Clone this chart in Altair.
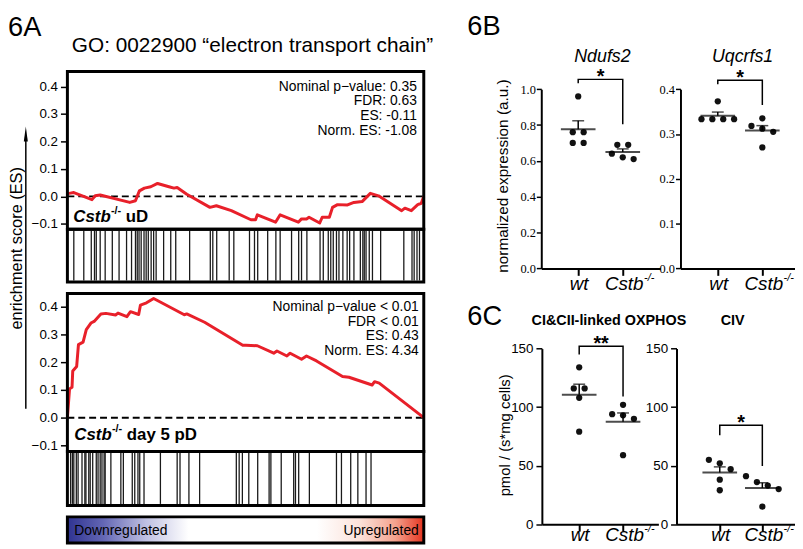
import altair as alt
import pandas as pd

# ------------------------------------------------------------------ data
# 6A: running enrichment score (position in ranked gene list, % ; ES)
top_rank = [0, 0.5, 1.8, 6.9, 7.8, 9.2, 17.5, 19.1, 20.2, 21.6, 23.4, 25.3, 28.5, 29.9, 30.8,
            33.5, 40.0, 41.8, 46.0, 51.5, 52.8, 53.3, 58.4, 59.7, 64.8, 65.7, 67.1, 67.8, 70.8,
            71.5, 73.5, 74.4, 75.8, 78.6, 80.4, 82.7, 85.0, 87.3, 93.8, 94.7, 96.5, 98.3, 99.3, 100]
top_es = [0.010, 0.011, 0.014, -0.012, 0.002, 0.005, -0.022, -0.016, 0.020, 0.030, 0.035, 0.047,
          0.035, 0.030, 0.032, 0.008, -0.040, -0.034, -0.052, -0.085, -0.085, -0.067, -0.094,
          -0.067, -0.094, -0.082, -0.082, -0.076, -0.097, -0.076, -0.076, -0.040, -0.030, -0.031,
          -0.022, -0.019, 0.011, 0.002, -0.052, -0.043, -0.052, -0.030, -0.025, 0.0]
top_hits = [1.8, 4.6, 6.7, 7.6, 8.1, 9.2, 10.6, 12.6, 14.5, 16.6, 18.0, 19.1, 19.6, 20.1, 20.7,
            21.5, 22.1, 22.7, 23.5, 24.2, 24.9, 27.0, 29.0, 30.4, 34.3, 40.1, 40.8, 41.9, 45.4,
            46.7, 51.1, 52.5, 53.4, 56.2, 58.5, 59.7, 62.9, 64.9, 65.7, 67.2, 70.9, 71.8, 73.2,
            73.9, 74.6, 75.5, 76.2, 77.3, 78.5, 79.2, 80.4, 82.2, 82.9, 83.3, 83.8, 84.7, 85.6,
            87.9, 94.4, 96.7, 97.3, 98.1, 98.8]

bot_rank = [0, 0.6, 1.3, 1.5, 2.6, 3.1, 4.4, 5.3, 6.6, 7.5, 9.4, 10.8, 13.5, 14.2, 16.7, 17.7,
            20.0, 20.5, 22.2, 24.2, 32.8, 33.5, 38.5, 49.2, 50.1, 53.3, 57.9, 58.8, 61.6, 62.5,
            65.7, 67.1, 69.9, 77.2, 79.0, 85.5, 86.2, 87.5, 100]
bot_es = [0.0, 0.104, 0.110, 0.169, 0.185, 0.264, 0.273, 0.318, 0.342, 0.348, 0.375, 0.377,
          0.371, 0.378, 0.365, 0.383, 0.373, 0.407, 0.415, 0.431, 0.372, 0.375, 0.345, 0.262,
          0.262, 0.260, 0.233, 0.241, 0.223, 0.233, 0.211, 0.223, 0.205, 0.149, 0.146, 0.118,
          0.130, 0.125, 0.0]
bot_hits = [0.9, 1.4, 1.8, 2.5, 3.0, 4.1, 4.9, 5.2, 6.0, 6.4, 7.1, 8.1, 8.6, 9.2, 9.7, 10.3,
            10.6, 12.2, 15.0, 15.7, 18.2, 18.9, 19.8, 20.3, 21.5, 26.1, 30.8, 31.6, 34.1, 37.1,
            47.4, 48.2, 49.1, 50.9, 53.4, 56.6, 57.1, 60.0, 63.5, 64.0, 64.9, 67.9, 75.5, 76.9,
            79.5, 81.5, 83.8, 85.2]

es_ticks = [-0.1, 0.0, 0.1, 0.2, 0.3, 0.4]
top_stats = ["Nominal p\u2212value: 0.35", "FDR: 0.63", "ES: -0.11", "Norm. ES: -1.08"]
bot_stats = ["Nominal p\u2212value < 0.01", "FDR < 0.01", "ES: 0.43", "Norm. ES: 4.34"]

# 6B / 6C: individual animals (wt, Cstb-/-)
nd_wt = [0.96, 0.76, 0.76, 0.70, 0.70]
nd_ko = [0.69, 0.69, 0.64, 0.62, 0.61]
uq_wt = [0.373, 0.333, 0.333, 0.333, 0.333]
uq_ko = [0.335, 0.318, 0.312, 0.305, 0.270]
ci_wt = [134, 116, 116, 108, 79]
ci_ko = [102, 94, 93, 90, 59]
civ_wt = [55, 52, 47, 38, 29]
civ_ko = [41, 36, 33, 30, 15]
# significance brackets: (left arm end, bracket top, right arm end)
nd_br = [1.033, 1.055, 0.805]
uq_br = [0.411, 0.420, 0.365]
ci_br = [145, 152, 109]
civ_br = [76, 84.5, 49.7]

# ------------------------------------------------------------------ styling
W, H = 795, 541
FONT = "Liberation Sans"
NARROW = "Liberation Sans Narrow"
RED = "#e8202a"
INK = "black"
ONE = pd.DataFrame({"a": [0]})


def P(v):
    """page pixel -> chart pixel (page has an 8px margin)"""
    return v - 8


def text(s, x, yc, size, align="left", weight="normal", style="normal", font=FONT,
         angle=0):
    """text whose capital letters are visually centred on page y = yc"""
    if angle:
        return alt.Chart(ONE).mark_text(
            text=s, fontSize=size, font=font, fontWeight=weight, fontStyle=style,
            align="center", baseline="middle", angle=angle, color=INK
        ).encode(x=alt.value(P(x)), y=alt.value(P(yc)))
    yb = yc + 0.358 * size
    return alt.Chart(ONE).mark_text(
        text=s, fontSize=size, font=font, fontWeight=weight, fontStyle=style,
        align=align, baseline="alphabetic", color=INK
    ).encode(x=alt.value(P(x)), y=alt.value(P(yb)))


def frame(x0, x1, y0, y1, sw=3):
    return alt.Chart(ONE).mark_rect(fillOpacity=0, stroke=INK, strokeWidth=sw).encode(
        x=alt.value(P(x0)), x2=alt.value(P(x1)), y=alt.value(P(y0)), y2=alt.value(P(y1)))


FX0, FX1 = 68, 428  # frame left / right (page px)


def gsea(rank, es, hits, ftop, fmid, fbot, y_m01, y_04, stats, stats_x, stats_y0,
         lab_rest, lab_x, lab_y):
    xs = alt.Scale(domain=[0, 100], range=[P(FX0), P(FX1)], nice=False, zero=False)
    ys = alt.Scale(domain=[-0.1, 0.4], range=[P(y_m01), P(y_04)], nice=False, zero=False)
    yaxis = alt.Axis(orient="left", offset=-P(FX0), values=es_ticks, format=".1f",
                     domain=False, grid=False, tickSize=7, tickWidth=1.5, tickColor=INK,
                     labelFont=FONT, labelFontSize=13.5, labelColor=INK, labelPadding=3,
                     title=None)
    zero = alt.Chart(pd.DataFrame({"x0": [0], "x1": [100], "z": [0.0]})).mark_rule(
        color=INK, strokeWidth=2, strokeDash=[7, 4]).encode(
        x=alt.X("x0:Q", scale=xs, axis=None), x2="x1:Q",
        y=alt.Y("z:Q", scale=ys, axis=yaxis))
    line = alt.Chart(pd.DataFrame({"rank": rank, "es": es})).mark_line(
        color=RED, strokeWidth=3, strokeJoin="round").encode(
        x=alt.X("rank:Q", scale=xs, axis=None), y=alt.Y("es:Q", scale=ys, axis=None))
    bars = alt.Chart(pd.DataFrame({"hit": hits})).mark_rule(
        color="#1a1a1a", strokeWidth=1.3).encode(
        x=alt.X("hit:Q", scale=xs, axis=None),
        y=alt.value(P(fmid) + 1.5), y2=alt.value(P(fbot) - 1.5))
    out = [zero, line, bars, frame(FX0, FX1, ftop, fmid), frame(FX0, FX1, fmid, fbot)]
    for i, s in enumerate(stats):
        out.append(text(s, stats_x, stats_y0 + i * 14.7, 14, align="right"))
    out.append(text("Cstb", lab_x, lab_y, 17, weight="bold", style="italic"))
    out.append(text("-/-", lab_x + 38, lab_y - 6, 11, weight="bold"))
    out.append(text(lab_rest, lab_x + 53, lab_y, 17, weight="bold"))
    return out


def swarm(values, px_per_unit, unit_px, spacing=11, tol=7):
    order = sorted(range(len(values)), key=lambda i: -values[i])
    clusters = []
    for i in order:
        if clusters and abs(values[clusters[-1][-1]] - values[i]) * px_per_unit < tol:
            clusters[-1].append(i)
        else:
            clusters.append([i])
    off = [0.0] * len(values)
    for c in clusters:
        n = len(c)
        for k, i in enumerate(c):
            off[i] = (k - (n - 1) / 2) * spacing / unit_px
    return off


def dots(wt, ko, ydom, yticks, yfmt, ax_px, wt_px, ko_px, right_px, y0_px, ytop_px,
         br, star, lab_yc, tfont, tsize, tpad, tick_len):
    unit = ko_px - wt_px
    xs = alt.Scale(domain=[1 - (wt_px - ax_px) / unit, 2 + (right_px - ko_px) / unit],
                   range=[P(ax_px), P(right_px)], nice=False, zero=False)
    ys = alt.Scale(domain=ydom, range=[P(y0_px), P(ytop_px)], nice=False, zero=False)
    px_per = (y0_px - ytop_px) / (ydom[1] - ydom[0])
    grp = [1] * len(wt) + [2] * len(ko)
    offs = swarm(wt, px_per, unit) + swarm(ko, px_per, unit)
    df = pd.DataFrame({"g": grp, "v": wt + ko,
                       "xp": [g + o for g, o in zip(grp, offs)]})
    xaxis = alt.Axis(orient="bottom", offset=P(y0_px) - H, values=[1, 2], labels=False,
                     tickSize=7, tickWidth=2, tickColor=INK, domainColor=INK,
                     domainWidth=2, grid=False, title=None)
    yaxis = alt.Axis(orient="left", offset=-P(ax_px), values=yticks, format=yfmt,
                     tickSize=tick_len, tickWidth=1.5, tickColor=INK, domainColor=INK,
                     domainWidth=2, labelFont=tfont, labelFontSize=tsize,
                     labelColor=INK, labelPadding=tpad, grid=False, title=None)
    X = lambda f: alt.X(f, scale=xs, axis=None)
    Y = lambda f: alt.Y(f, scale=ys, axis=None)
    pts = alt.Chart(df).mark_circle(size=40, color="#111111", opacity=1).encode(
        x=alt.X("xp:Q", scale=xs, axis=xaxis), y=alt.Y("v:Q", scale=ys, axis=yaxis))
    agg = alt.Chart(df).transform_aggregate(
        m="mean(v)", s="stderr(v)", groupby=["g"]).transform_calculate(
        u="datum.m + datum.s")
    mean = agg.mark_tick(orient="horizontal", size=35, thickness=2, color=INK).encode(
        x=X("g:Q"), y=Y("m:Q"))
    sem = agg.mark_rule(strokeWidth=1.5, color=INK).encode(
        x=X("g:Q"), y=Y("m:Q"), y2="u:Q")
    cap = agg.mark_tick(orient="horizontal", size=12, thickness=1.5, color=INK).encode(
        x=X("g:Q"), y=Y("u:Q"))
    bdf = pd.DataFrame({"bx": [1, 1, 2, 2], "by": [br[0], br[1], br[1], br[2]],
                        "o": [0, 1, 2, 3]})
    bracket = alt.Chart(bdf).mark_line(color=INK, strokeWidth=1.5).encode(
        x=X("bx:Q"), y=Y("by:Q"), order="o:Q")
    stars = alt.Chart(pd.DataFrame({"g": [1.5], "v": [br[1]]})).mark_text(
        text=star, fontSize=20, fontWeight="bold", font=FONT, color=INK,
        baseline="alphabetic", dy=4).encode(x=X("g:Q"), y=Y("v:Q"))
    g1 = pd.DataFrame({"g": [1]})
    g2 = pd.DataFrame({"g": [2]})
    lab_wt = alt.Chart(g1).mark_text(text="wt", fontSize=19, fontStyle="italic", font=FONT,
                                     color=INK, baseline="middle", dx=1).encode(
        x=X("g:Q"), y=alt.value(P(lab_yc)))
    lab_ko = alt.Chart(g2).mark_text(text="Cstb", fontSize=19, fontStyle="italic",
                                     font=FONT, color=INK, align="right", baseline="middle",
                                     dx=21).encode(x=X("g:Q"), y=alt.value(P(lab_yc)))
    lab_sup = alt.Chart(g2).mark_text(text="-/-", fontSize=11, fontStyle="italic",
                                      font=FONT, color=INK, align="left",
                                      baseline="middle", dx=21.5).encode(
        x=X("g:Q"), y=alt.value(P(lab_yc - 6)))
    return [pts, mean, sem, cap, bracket, stars, lab_wt, lab_ko, lab_sup]


# ------------------------------------------------------------------ panels
layers = []

# 6A
layers.append(text("6A", 8, 23.5, 27.5))
layers.append(text("GO: 0022900 \u201celectron transport chain\u201d", 255, 42, 21,
                   align="center"))
layers += gsea(top_rank, top_es, top_hits, 69.5, 228.7, 282, 223.3, 84.5,
               top_stats, 421, 84, "uD", 74, 215)
layers += gsea(bot_rank, bot_es, bot_hits, 293.7, 453.3, 507.7, 447, 307.3,
               bot_stats, 423, 306.5, "day 5 pD", 75, 436)
# y label with arrow
layers.append(text("enrichment score (ES)", 17, 248, 16.5, angle=270))
layers.append(alt.Chart(ONE).mark_rule(color=INK, strokeWidth=1.5).encode(
    x=alt.value(P(26)), y=alt.value(P(136)), y2=alt.value(P(410))))
layers.append(alt.Chart(ONE).mark_point(shape="M0,-1L0.27,1L-0.27,1Z", filled=True,
                                        size=225, color=INK, opacity=1).encode(
    x=alt.value(P(26)), y=alt.value(P(132.5))))
# colour bar
grad = alt.LinearGradient(
    gradient="linear", x1=0, x2=1, y1=0, y2=0,
    stops=[alt.GradientStop(offset=0.0, color="#2f3391"),
           alt.GradientStop(offset=0.10, color="#6366b4"),
           alt.GradientStop(offset=0.22, color="#bfc0e2"),
           alt.GradientStop(offset=0.34, color="#ffffff"),
           alt.GradientStop(offset=0.70, color="#ffffff"),
           alt.GradientStop(offset=0.82, color="#fbe2da"),
           alt.GradientStop(offset=0.92, color="#f4a28e"),
           alt.GradientStop(offset=1.0, color="#e5341f")])
layers.append(alt.Chart(ONE).mark_rect(fill=grad, stroke=INK, strokeWidth=3).encode(
    x=alt.value(P(FX0)), x2=alt.value(P(FX1)), y=alt.value(P(519.3)),
    y2=alt.value(P(545.7))))
layers.append(text("Downregulated", 75, 532.5, 14))
layers.append(text("Upregulated", 423, 532.5, 14, align="right"))

# 6B
layers.append(text("6B", 472, 22.5, 27.5))
layers.append(text("Ndufs2", 608.5, 53, 18, align="center", style="italic"))
layers.append(text("Uqcrfs1", 750, 53, 18, align="center", style="italic"))
layers.append(text("normalized expression (a.u.)", 508, 175, 15.5, angle=270))
layers += dots(nd_wt, nd_ko, [0, 1.0], [0, 0.2, 0.4, 0.6, 0.8, 1.0], ".1f",
               546.7, 584, 629, 667, 268.3, 87.3, nd_br, "*", 284,
               NARROW, 12.5, 1, 5)
layers += dots(uq_wt, uq_ko, [0, 0.4], [0, 0.1, 0.2, 0.3, 0.4], ".1f",
               687.3, 725, 770, 810, 268.3, 87.3, uq_br, "*", 284,
               NARROW, 12.5, 1, 5)

# 6C
layers.append(text("6C", 472, 316, 27.5))
layers.append(text("CI&CII-linked OXPHOS", 615, 320, 14.5, align="center", weight="bold"))
layers.append(text("CIV", 740, 320, 14.5, align="center", weight="bold"))
layers.append(text("pmol / (s*mg cells)", 510, 437, 15, angle=270))
layers += dots(ci_wt, ci_ko, [0, 150], [0, 50, 100, 150], "d",
               547.3, 585, 629.3, 665, 526.7, 349.3, ci_br, "**", 538,
               FONT, 13.5, 3, 6)
layers += dots(civ_wt, civ_ko, [0, 150], [0, 50, 100, 150], "d",
               683.3, 727, 770, 810, 526.7, 349.3, civ_br, "*", 538,
               FONT, 13.5, 3, 6)

chart = alt.layer(*layers).resolve_scale(x="independent", y="independent").properties(
    width=W, height=H, padding=0, autosize=alt.AutoSizeParams(type="none")
).configure_view(stroke=None)

chart.save("out.html", embed_options={"renderer": "svg", "actions": False})
